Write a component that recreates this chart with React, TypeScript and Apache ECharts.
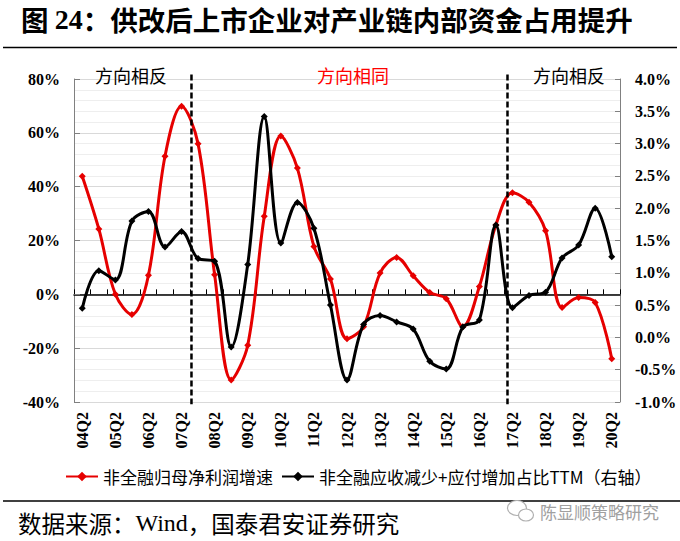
import React, { useEffect, useRef } from "react";
import * as echarts from "echarts";

const categories = [
  "04Q2", "04Q4", "05Q2", "05Q4", "06Q2", "06Q4", "07Q2", "07Q4",
  "08Q2", "08Q4", "09Q2", "09Q4", "10Q2", "10Q4", "11Q2", "11Q4",
  "12Q2", "12Q4", "13Q2", "13Q4", "14Q2", "14Q4", "15Q2", "15Q4",
  "16Q2", "16Q4", "17Q2", "17Q4", "18Q2", "18Q4", "19Q2", "19Q4", "20Q2",
];

// 非全融归母净利润增速 (%), left axis
const profitGrowth = [
  43.9, 24.3, 0.0, -7.5, 7.1, 51.3, 69.9, 55.9,
  7.3, -31.8, -18.9, 29.0, 58.8, 46.9, 17.8, 5.7,
  -16.5, -12.0, 7.9, 13.7, 6.9, 0.7, -1.6, -12.0,
  2.9, 25.8, 37.7, 34.2, 23.6, -4.9, -1.2, -3.0, -23.9,
];

// 非全融应收减少+应付增加占比TTM (%), right axis
const workingCapital = [
  0.45, 1.03, 0.89, 1.80, 1.95, 1.40, 1.64, 1.22,
  1.18, -0.15, 1.13, 3.42, 1.46, 2.09, 1.69, 0.50,
  -0.66, 0.20, 0.34, 0.24, 0.13, -0.37, -0.49, 0.16,
  0.27, 1.74, 0.46, 0.65, 0.70, 1.23, 1.43, 2.00, 1.25,
];

// regime dividers (category index position) and their vertical extent (left-axis %)
const dividerPositions = [6.6, 25.7];
const dividerExtent = [81.7, -40.8];

const seriesNames = ["非全融归母净利润增速", "非全融应收减少+应付增加占比TTM（右轴）"];

const RED = "#e60000";
const CJK = "'Noto Sans CJK SC', sans-serif";
const SERIF = "'Liberation Serif', 'Times New Roman', serif";

export default function App() {
  const ref = useRef<HTMLDivElement>(null);

  useEffect(() => {
    if (!ref.current) return;
    const chart = echarts.init(ref.current, null, { renderer: "svg" });

    const dividerSeries = dividerPositions.map((pos) => ({
      type: "line",
      xAxisIndex: 2,
      yAxisIndex: 0,
      data: [
        [pos, dividerExtent[0]],
        [pos, dividerExtent[1]],
      ],
      symbol: "none",
      clip: false,
      silent: true,
      z: 5,
      lineStyle: { color: "#000", width: 2.5, type: [6, 3] },
    }));

    chart.setOption({
      animation: false,
      grid: { left: 74, right: 60, top: 79, bottom: 139, containLabel: false },
      legend: {
        data: seriesNames,
        left: 60,
        top: 463,
        itemWidth: 32,
        itemHeight: 12,
        itemGap: 8,
        textStyle: { fontFamily: CJK, fontSize: 17, color: "#000" },
      },
      xAxis: [
        {
          type: "category",
          data: categories,
          position: "bottom",
          axisLine: {
            onZero: true,
            onZeroAxisIndex: 0,
            lineStyle: { color: "#000", width: 1.5 },
          },
          axisTick: {
            show: true,
            inside: true,
            interval: 0,
            length: 5,
            lineStyle: { color: "#000", width: 1 },
          },
          axisLabel: { show: false },
          splitLine: { show: false },
        },
        {
          type: "category",
          data: categories,
          position: "bottom",
          axisLine: { show: false, onZero: false },
          axisTick: { show: false },
          splitLine: { show: false },
          axisLabel: {
            interval: 1,
            rotate: 90,
            margin: 10,
            fontFamily: SERIF,
            fontWeight: "bold",
            fontSize: 16,
            color: "#000",
          },
        },
        {
          type: "value",
          min: -0.5,
          max: 32.5,
          show: false,
          axisLine: { onZero: false },
          splitLine: { show: false },
        },
      ],
      yAxis: [
        {
          type: "value",
          position: "left",
          min: -40,
          max: 80,
          interval: 20,
          axisLine: { show: true, onZero: false, lineStyle: { color: "#808080", width: 1 } },
          axisTick: { show: true, inside: true, length: 6, lineStyle: { color: "#808080" } },
          axisLabel: {
            formatter: "{value}%",
            margin: 14,
            fontFamily: SERIF,
            fontWeight: "bold",
            fontSize: 16,
            color: "#000",
          },
          splitLine: { show: true, lineStyle: { color: "#d9d9d9", width: 1 } },
          minorTick: { show: false, splitNumber: 5 },
          minorSplitLine: { show: true, lineStyle: { color: "#eeeeee", width: 1 } },
        },
        {
          type: "value",
          position: "right",
          min: -1,
          max: 4,
          interval: 0.5,
          axisLine: { show: true, onZero: false, lineStyle: { color: "#808080", width: 1 } },
          axisTick: { show: true, inside: true, length: 5, lineStyle: { color: "#808080" } },
          axisLabel: {
            formatter: (v: number) => v.toFixed(1) + "%",
            margin: 15,
            fontFamily: SERIF,
            fontWeight: "bold",
            fontSize: 16,
            color: "#000",
          },
          splitLine: { show: false },
        },
      ],
      series: [
        {
          name: seriesNames[0],
          type: "line",
          xAxisIndex: 0,
          yAxisIndex: 0,
          data: profitGrowth,
          smooth: 0.35,
          symbol: "diamond",
          symbolSize: 7,
          lineStyle: { color: RED, width: 3 },
          itemStyle: { color: RED },
          z: 3,
        },
        {
          name: seriesNames[1],
          type: "line",
          xAxisIndex: 0,
          yAxisIndex: 1,
          data: workingCapital,
          smooth: 0.35,
          symbol: "diamond",
          symbolSize: 7,
          lineStyle: { color: "#000", width: 3 },
          itemStyle: { color: "#000" },
          z: 4,
        },
        ...dividerSeries,
      ],
      graphic: [
        {
          type: "text",
          x: 21,
          y: 19,
          style: {
            text: "{a|图 }{b|24}{a|：供改后上市企业对产业链内部资金占用提升}",
            verticalAlign: "middle",
            rich: {
              a: { fontFamily: CJK, fontWeight: "bold", fontSize: 27.5, fill: "#000" },
              b: { fontFamily: SERIF, fontWeight: "bold", fontSize: 28, fill: "#000" },
            },
          },
        },
        {
          type: "line",
          shape: { x1: 3, y1: 47.5, x2: 677, y2: 47.5 },
          style: { stroke: "#000", lineWidth: 1.5 },
        },
        {
          type: "text",
          x: 95,
          y: 75,
          z: 10,
          style: { text: "方向相反", fontFamily: CJK, fontSize: 18, fill: "#000", verticalAlign: "middle" },
        },
        {
          type: "text",
          x: 317,
          y: 75,
          z: 10,
          style: { text: "方向相同", fontFamily: CJK, fontSize: 18, fill: "#ff0000", verticalAlign: "middle" },
        },
        {
          type: "text",
          x: 533,
          y: 75,
          z: 10,
          style: { text: "方向相反", fontFamily: CJK, fontSize: 18, fill: "#000", verticalAlign: "middle" },
        },
        {
          type: "line",
          shape: { x1: 3, y1: 501, x2: 680, y2: 501 },
          style: { stroke: "#000", lineWidth: 1.5 },
        },
        {
          type: "text",
          x: 18,
          y: 523,
          style: {
            text: "{a|数据来源：}{b|Wind}{a|，国泰君安证券研究}",
            verticalAlign: "middle",
            rich: {
              a: { fontFamily: CJK, fontSize: 23.5, fill: "#000" },
              b: { fontFamily: SERIF, fontSize: 24, fill: "#000" },
            },
          },
        },
        {
          type: "ellipse",
          shape: { cx: 517, cy: 508, rx: 9.5, ry: 7.5 },
          style: { fill: "#fff", stroke: "#b0b0b0", lineWidth: 1.2 },
        },
        {
          type: "ellipse",
          shape: { cx: 526, cy: 515, rx: 7.5, ry: 6 },
          style: { fill: "#fff", stroke: "#b0b0b0", lineWidth: 1.2 },
        },
        {
          type: "text",
          x: 540,
          y: 511,
          style: { text: "陈显顺策略研究", fontFamily: CJK, fontSize: 17, fill: "#a0a0a0", verticalAlign: "middle" },
        },
      ],
    });

    return () => chart.dispose();
  }, []);

  return (
    <div
      ref={ref}
      style={{ position: "fixed", left: 0, top: 0, width: 680, height: 541, background: "#fff" }}
    />
  );
}
